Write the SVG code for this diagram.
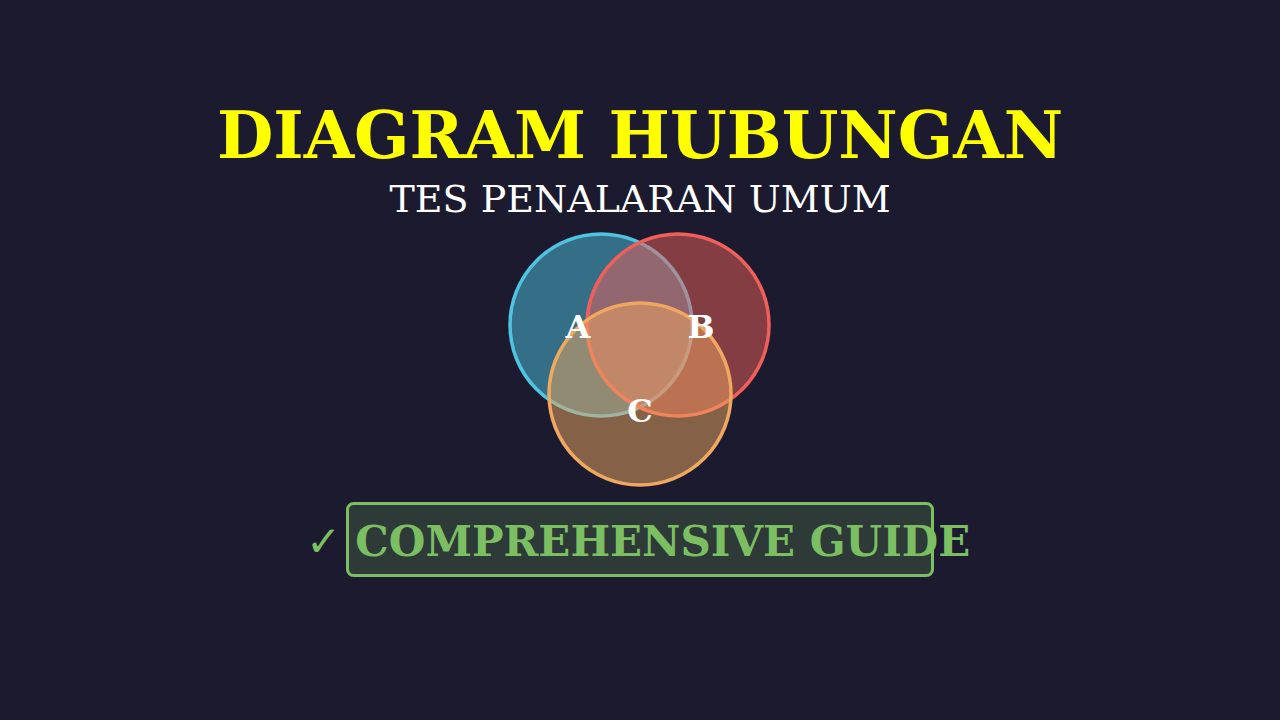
<svg xmlns="http://www.w3.org/2000/svg" width="1280" height="720" viewBox="0 0 1280 720">
<style>
.t{font-family:"DejaVu Serif","Liberation Serif",serif;text-anchor:middle}
.lbl{font-family:"DejaVu Serif","Liberation Serif",serif;font-weight:bold;font-size:32px;fill:#ffffff;text-anchor:middle}
</style>
<rect width="1280" height="720" fill="#1b1a2e"/>
<g id="title">
<text class="t" x="640" y="158" font-size="65" font-weight="bold" fill="#ffff00">DIAGRAM HUBUNGAN</text>
<text class="t" x="640" y="212" font-size="38" fill="#ffffff">TES PENALARAN UMUM</text>
</g>
<g id="circleA">
<circle cx="601" cy="325" r="91" fill="#4fc3e0" fill-opacity="0.5" stroke="#4fc3e0" stroke-width="3.5"/>
</g>
<g id="circleB">
<circle cx="678" cy="325" r="91" fill="#f0605a" fill-opacity="0.5" stroke="#f0605a" stroke-width="3.5"/>
</g>
<g id="circleC">
<circle cx="640" cy="394" r="91" fill="#f0a860" fill-opacity="0.5" stroke="#f0a860" stroke-width="3.5"/>
</g>
<g id="labels">
<text class="lbl" x="578" y="338">A</text>
<text class="lbl" x="701" y="338">B</text>
<text class="lbl" x="640" y="422">C</text>
</g>
<g id="guide">
<rect x="347.5" y="503.5" width="585" height="72" rx="6" fill="#2e3a38" stroke="#7cbf62" stroke-width="3"/>
<text class="t" x="638" y="556" font-size="42" font-weight="bold" fill="#7cbf62"><tspan font-weight="normal">✓</tspan> COMPREHENSIVE GUIDE</text>
</g>
</svg>
